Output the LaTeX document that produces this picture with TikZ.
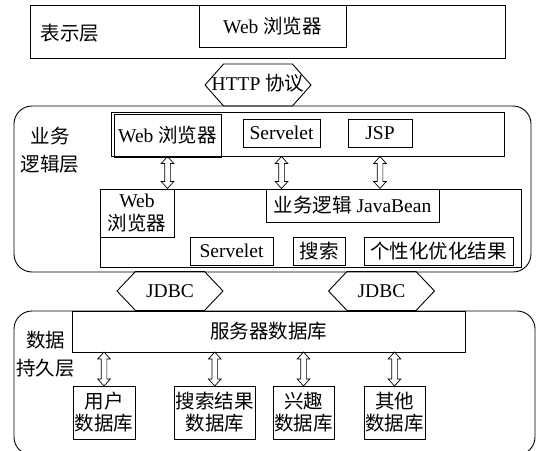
\documentclass[tikz,border=0pt]{standalone}
\usepackage{fontspec}
\setmainfont{Liberation Serif}
\newfontfamily\cjk{Noto Sans CJK SC}
\usetikzlibrary{shapes.arrows}

\begin{document}
\begin{tikzpicture}[x=1pt,y=-1pt,line width=0.9pt,font=\fontsize{19.5}{22.5}\selectfont]
    \tikzstyle{layer} = [draw,inner sep=0pt]
    \tikzstyle{box} = [draw,inner sep=0pt,align=center]
    \tikzstyle{dbbox} = [box,font=\cjk\fontsize{19.5}{22}\selectfont,minimum height=53]
    \tikzstyle{cjklabel} = [inner sep=0pt,align=center,font=\cjk\fontsize{19.5}{28}\selectfont]
    \tikzstyle{bigarrow} = [draw,shape=double arrow,double arrow head extend=0pt,inner sep=0pt,minimum height=106]
    \tikzstyle{smallarrow} = [draw,line width=0.7pt,shape=double arrow,rotate=90,double arrow head extend=3.5,double arrow tip angle=84,inner xsep=0pt,inner ysep=2.5,font=\fontsize{1}{1}\selectfont]
    \fill[white] (0,0) rectangle (538,450);
    \useasboundingbox (0,0) rectangle (538,450);
        % presentation layer
        \node[layer,minimum width=475,minimum height=53] (present) at (267.5,31.5) {};
        \node[cjklabel] (presentlabel) at (70,33) {表示层};
        \node[box,minimum width=147,minimum height=42] (pweb) at (272.5,26) {Web {\cjk 浏览器}};
        \node[bigarrow,minimum width=42,double arrow tip angle=97] (http) at (258,85) {};
        \node (httptext) at (258,83) {HTTP {\cjk 协议}};
        % business logic layer
        \node[layer,rounded corners=18,minimum width=517,minimum height=166] (logic) at (272.5,189) {};
        \node[cjklabel] (logiclabel) at (50,150) {业务\\逻辑层};
        \node[box,minimum width=392.5,minimum height=44] (upper) at (307.75,134) {};
        \node[box,minimum width=107,minimum height=43] (uweb) at (167.5,135.5) {Web {\cjk 浏览器}};
        \node[box,minimum width=77,minimum height=28] (userv) at (281.5,133) {Servelet};
        \node[box,minimum width=64,minimum height=28] (jsp) at (380,133) {JSP};
        \node[box,minimum width=421,minimum height=78] (lower) at (310.5,228) {};
        \node[box,minimum width=74,minimum height=48] (lweb) at (137,213) {Web\\{\cjk 浏览器}};
        \node[box,minimum width=173,minimum height=33] (bean) at (352.5,205.5) {{\cjk 业务逻辑} JavaBean};
        \node[box,minimum width=83,minimum height=28] (lserv) at (231.5,251) {Servelet};
        \node[box,minimum width=52,minimum height=28] (search) at (319,251) {\cjk 搜索};
        \node[box,minimum width=149,minimum height=28] (result) at (438.5,251) {\cjk 个性化优化结果};
        \path (uweb.south |- upper.south) -- (uweb.south |- lower.north) node[midway,smallarrow,minimum height=32] (a1) {};
        \path (userv.south |- upper.south) -- (userv.south |- lower.north) node[midway,smallarrow,minimum height=32] (a2) {};
        \path (jsp.south |- upper.south) -- (jsp.south |- lower.north) node[midway,smallarrow,minimum height=32] (a3) {};
        % JDBC
        \node[bigarrow,minimum width=39,double arrow tip angle=93] (jdbc1) at (170,291) {JDBC};
        \node[bigarrow,minimum width=39,double arrow tip angle=93] (jdbc2) at (381.5,291) {JDBC};
        % data persistence layer
        \node[layer,rounded corners=18,minimum width=521,minimum height=144] (data) at (274.5,383) {};
        \node[cjklabel] (datalabel) at (45.5,354.5) {数据\\持久层};
        \node[box,minimum width=393,minimum height=41] (server) at (268.5,331.5) {\cjk 服务器数据库};
        \node[dbbox,minimum width=62] (user) at (104,412.5) {用户\\数据库};
        \node[dbbox,minimum width=81.5] (sres) at (214.75,412.5) {搜索结果\\数据库};
        \node[dbbox,minimum width=61] (inter) at (303.5,412.5) {兴趣\\数据库};
        \node[dbbox,minimum width=61] (other) at (394.5,412.5) {其他\\数据库};
        \path (user.north |- server.south) -- (user.north) node[midway,smallarrow,minimum height=34] (b1) {};
        \path (sres.north |- server.south) -- (sres.north) node[midway,smallarrow,minimum height=34] (b2) {};
        \path (inter.north |- server.south) -- (inter.north) node[midway,smallarrow,minimum height=34] (b3) {};
        \path (other.north |- server.south) -- (other.north) node[midway,smallarrow,minimum height=34] (b4) {};
    \end{tikzpicture}
\end{document}
